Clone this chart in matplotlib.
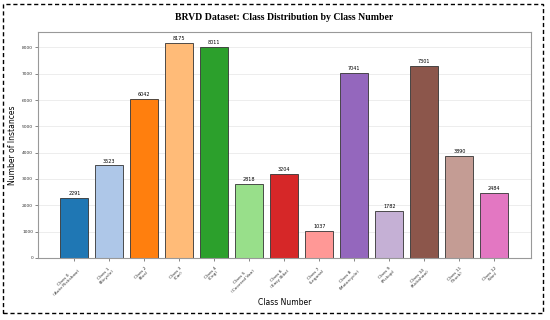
import matplotlib
matplotlib.use("Agg")
import matplotlib.pyplot as plt
from matplotlib.patches import Rectangle

# --- data ---
class_ids = list(range(13))
class_names = ["Auto Rickshaw", "Bicycle", "Bus", "Car", "Cng", "Covered Van", "Easy Bike",
               "Leguna", "Motorcycle", "Pickup", "Rickshaw", "Truck", "Van"]
counts = [2291, 3523, 6042, 8175, 8011, 2818, 3204, 1037, 7041, 1782, 7301, 3890, 2484]

tick_labels = [f"Class {i}\n({n})" for i, n in zip(class_ids, class_names)]
colors = plt.cm.tab20.colors[:len(counts)]

fig = plt.figure(figsize=(5.5, 3.2), dpi=100)
ax = fig.add_axes([0.069, 0.194, 0.896, 0.706])

bars = ax.bar(class_ids, counts, width=0.8, color=colors, edgecolor="#333333", linewidth=0.6)
for b, v in zip(bars, counts):
    ax.text(b.get_x() + b.get_width() / 2, v + 60, str(v), ha="center", va="bottom", fontsize=3.5)

ax.set_ylim(0, max(counts) * 1.05)
ax.set_xticks(class_ids)
ax.set_xticklabels(tick_labels, rotation=45, ha="right", rotation_mode="anchor", fontsize=3.2,
                   multialignment="center")
ax.tick_params(axis="y", labelsize=3.2, length=2, width=0.5, pad=1.5, colors="#555555")
ax.tick_params(axis="x", length=2, width=0.5, colors="#555555")
for lbl in ax.get_xticklabels() + ax.get_yticklabels():
    lbl.set_color("#333333")
ax.yaxis.grid(True, color="#e6e6e6", linewidth=0.5)
ax.set_axisbelow(True)
for s in ax.spines.values():
    s.set_color("#999999")
    s.set_linewidth(0.8)

ax.set_xlabel("Class Number", fontsize=5.5)
ax.set_ylabel("Number of Instances", fontsize=5.5)
ax.xaxis.set_label_coords(0.5, -0.177)
ax.yaxis.set_label_coords(-0.042, 0.5)
fig.text(0.517, 0.945, "BRVD Dataset: Class Distribution by Class Number", ha="center", va="center",
         fontsize=7, fontweight="bold", family="Liberation Serif")

# dashed frame around the whole figure
fig.patches.append(Rectangle((0.006, 0.022), 0.982, 0.966, transform=fig.transFigure,
                             fill=False, linestyle=(0, (3, 2)), linewidth=1, edgecolor="black"))

fig.savefig("out.png", dpi=100)
